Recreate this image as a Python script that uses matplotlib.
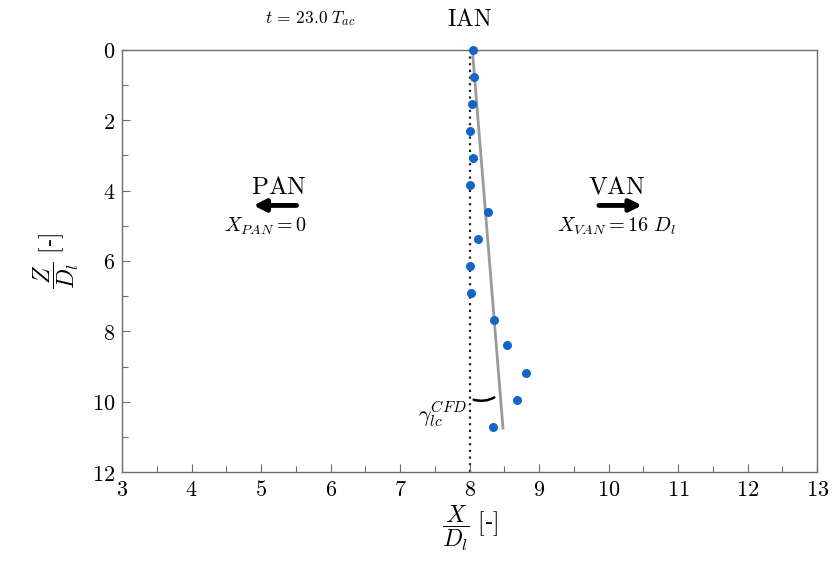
import numpy as np
import matplotlib
matplotlib.use("Agg")
import matplotlib.pyplot as plt
from matplotlib.patches import FancyArrowPatch
from matplotlib.ticker import MultipleLocator

plt.rcParams['mathtext.fontset'] = 'cm'
plt.rcParams['font.family'] = 'serif'
plt.rcParams['font.serif'] = ['DejaVu Serif']

# droplet centre positions
x_pts = [8.05, 8.06, 8.04, 8.01, 8.05, 8.00, 8.27, 8.12, 8.00, 8.02, 8.35, 8.54, 8.81, 8.68, 8.34]
z_pts = [0.00, 0.77, 1.53, 2.30, 3.07, 3.84, 4.60, 5.37, 6.14, 6.90, 7.67, 8.40, 9.18, 9.94, 10.71]
# fitted line (grey) and injector axis (dotted)
fit_x = [8.04, 8.48]
fit_z = [0.0, 10.75]
x_axis = 8.0

BLUE = '#1565c8'
GREY = '#6e6e6e'

fig = plt.figure(figsize=(8.33, 5.68), dpi=100)
ax = fig.add_axes([0.1465, 0.169, 0.8345, 0.743])

ax.axvline(x_axis, color='#222222', ls=(0, (1, 2.0)), lw=1.6, zorder=1)
ax.plot(fit_x, fit_z, color='#9a9a9a', lw=2.0, zorder=2)
ax.plot(x_pts, z_pts, 'o', color=BLUE, ms=6.5, mec='none', zorder=3, clip_on=False)

ax.set_xlim(3, 13)
ax.set_ylim(12, 0)
ax.xaxis.set_major_locator(MultipleLocator(1))
ax.xaxis.set_minor_locator(MultipleLocator(0.5))
ax.yaxis.set_major_locator(MultipleLocator(2))
ax.yaxis.set_minor_locator(MultipleLocator(1))
ax.tick_params(which='both', direction='in', color=GREY, labelsize=16, pad=5)
ax.tick_params(which='major', length=6, width=0.8)
ax.tick_params(which='minor', length=4, width=0.8)
ax.set_xticklabels([rf'$\mathbf{{{int(v)}}}$' for v in ax.get_xticks()])
ax.set_yticklabels([rf'$\mathbf{{{int(v)}}}$' for v in ax.get_yticks()])
for s in ax.spines.values():
    s.set_color(GREY)
    s.set_linewidth(1.0)

ax.set_xlabel(r'$\dfrac{X}{D_l}\ \mathrm{[}$-$\mathrm{]}$', fontsize=17, labelpad=2)
ax.set_ylabel(r'$\dfrac{Z}{D_l}\ \mathrm{[}$-$\mathrm{]}$', fontsize=17, labelpad=8)

# header texts
fig.text(0.372, 0.968, r'$t\, =\, 23.0\ T_{ac}$', fontsize=12.5, ha='center', va='center')
fig.text(0.564, 0.966, r'$\mathrm{IAN}$', fontsize=17, ha='center', va='center')

# PAN / VAN markers
ax.text(5.25, 3.9, r'$\mathrm{PAN}$', fontsize=18, ha='center', va='center')
ax.annotate('', xy=(4.85, 4.42), xytext=(5.55, 4.42),
            arrowprops=dict(arrowstyle='-|>,head_width=0.35,head_length=0.7', lw=3.5, color='k'))
ax.text(5.06, 5.02, r'$X_{PAN} = 0$', fontsize=14.5, ha='center', va='center')

ax.text(10.12, 3.9, r'$\mathrm{VAN}$', fontsize=18, ha='center', va='center')
ax.annotate('', xy=(10.52, 4.42), xytext=(9.82, 4.42),
            arrowprops=dict(arrowstyle='-|>,head_width=0.35,head_length=0.7', lw=3.5, color='k'))
ax.text(10.12, 5.02, r'$X_{VAN} = 16\ D_l$', fontsize=14.5, ha='center', va='center')

# deviation angle
arc = FancyArrowPatch((8.02, 9.92), (8.39, 9.84), arrowstyle='-',
                      connectionstyle='arc3,rad=0.25', lw=1.8, color='k')
ax.add_patch(arc)
ax.text(7.96, 10.35, r'$\gamma_{lc}^{CFD}$', fontsize=16, ha='right', va='center')

fig.savefig('out.png', dpi=100)
